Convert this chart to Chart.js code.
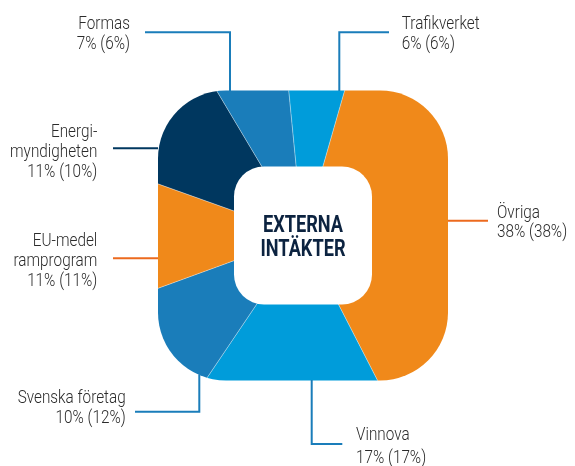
<!DOCTYPE html>
<html>
<head>
<meta charset="utf-8">
<script src="https://cdn.jsdelivr.net/npm/chart.js@4"></script>
<style>
  html, body { margin: 0; padding: 0; background: #fff; }
  #wrap { width: 575px; height: 466px; position: relative; }
</style>
</head>
<body>
<div id="wrap"><canvas id="pieChart"></canvas></div>
<script>
// data
const categories = ['Övriga', 'Vinnova', 'Svenska företag', 'EU-medel ramprogram', 'Energimyndigheten', 'Formas', 'Trafikverket'];
const labelLines = [['Övriga'], ['Vinnova'], ['Svenska företag'], ['EU-medel', 'ramprogram'], ['Energi-', 'myndigheten'], ['Formas'], ['Trafikverket']];
const shares = [38, 17, 10, 11, 11, 7, 6];
const sharesPrev = [38, 17, 12, 11, 10, 6, 6];
const title = ['EXTERNA', 'INTÄKTER'];

const ORANGE = '#f0891a';
const LIGHT = '#009cda';
const MID = '#1a7dba';
const NAVY = '#00375f';
const sliceColors = [ORANGE, LIGHT, MID, ORANGE, NAVY, MID, LIGHT];

// callout layout, offsets from the pie centre
const callouts = [
    { pts: [[145, -14.8], [185, -14.8]], color: '#ec6a1e', tx: 194, ty: -17.5, align: 'left', lh: 19 },
    { pts: [[8.7, 144.5], [8.7, 208.5], [39.3, 208.5]], color: MID, tx: 53, ty: 204.5, align: 'left', lh: 22.7 },
    { pts: [[-103.7, 139], [-103.7, 176.2], [-168, 176.2]], color: MID, tx: -177.3, ty: 167.8, align: 'right', lh: 20 },
    { pts: [[-145, 22.8], [-190, 22.8]], color: '#ec6a1e', tx: -205.7, ty: 10.5, align: 'right', lh: 20 },
    { pts: [[-145, -87.2], [-190, -87.2]], color: NAVY, tx: -205.7, ty: -98.8, align: 'right', lh: 20 },
    { pts: [[-73, -144.5], [-73, -203.2], [-158, -203.2]], color: MID, tx: -173, ty: -206.2, align: 'right', lh: 20 },
    { pts: [[36.3, -144.5], [36.3, -203.2], [86, -203.2]], color: MID, tx: 98.7, ty: -206.2, align: 'left', lh: 20 }
];

const BOX = 145, BOX_R = 68, HOLE = 69, HOLE_R = 30;

function roundedRect(ctx, x, y, w, h, r) {
    ctx.beginPath();
    ctx.moveTo(x + r, y);
    ctx.arcTo(x + w, y, x + w, y + h, r);
    ctx.arcTo(x + w, y + h, x, y + h, r);
    ctx.arcTo(x, y + h, x, y, r);
    ctx.arcTo(x, y, x + w, y, r);
    ctx.closePath();
}

// the original uses a condensed face, so squeeze Roboto a bit
function condensedText(ctx, text, x, y, align, sx) {
    const w = ctx.measureText(text).width * sx;
    let left = x;
    if (align === 'right') left = x - w;
    if (align === 'center') left = x - w / 2;
    ctx.save();
    ctx.translate(left, y);
    ctx.scale(sx, 1);
    ctx.textAlign = 'left';
    ctx.fillText(text, 0, 0);
    ctx.restore();
}

const squarePie = {
    id: 'squarePie',
    beforeDatasetsDraw(chart) {
        const arc = chart.getDatasetMeta(0).data[0];
        const ctx = chart.ctx;
        ctx.save();
        roundedRect(ctx, arc.x - BOX, arc.y - BOX, BOX * 2, BOX * 2, BOX_R);
        ctx.clip();
    },
    afterDatasetsDraw(chart) {
        const ctx = chart.ctx;
        ctx.restore();
        const arc = chart.getDatasetMeta(0).data[0];
        const cx = arc.x, cy = arc.y;

        // white centre
        ctx.save();
        ctx.fillStyle = '#fff';
        roundedRect(ctx, cx - HOLE, cy - HOLE, HOLE * 2, HOLE * 2, HOLE_R);
        ctx.fill();

        ctx.fillStyle = '#0c2340';
        ctx.font = 'bold 23px Roboto';
        ctx.textBaseline = 'alphabetic';
        condensedText(ctx, title[0], cx, cy - 3.8, 'center', 0.79);
        condensedText(ctx, title[1], cx, cy + 20.5, 'center', 0.79);

        // leader lines + labels
        ctx.lineWidth = 2;
        ctx.font = '300 18px Roboto';
        callouts.forEach((c, i) => {
            ctx.strokeStyle = c.color;
            ctx.beginPath();
            c.pts.forEach((p, j) => {
                if (j === 0) ctx.moveTo(cx + p[0], cy + p[1]);
                else ctx.lineTo(cx + p[0], cy + p[1]);
            });
            ctx.stroke();

            ctx.fillStyle = '#2b2b2b';
            const lines = labelLines[i].concat([shares[i] + '% (' + sharesPrev[i] + '%)']);
            lines.forEach((t, k) => {
                condensedText(ctx, t, cx + c.tx, cy + c.ty + k * c.lh, c.align, 0.85);
            });
        });
        ctx.restore();
    }
};

new Chart(document.getElementById('pieChart'), {
    type: 'pie',
    data: {
        labels: categories,
        datasets: [{
            data: shares,
            backgroundColor: sliceColors,
            borderColor: 'rgba(255,255,255,0.3)',
            borderWidth: 1
        }]
    },
    options: {
        responsive: true,
        maintainAspectRatio: false,
        animation: false,
        rotation: 16,
        layout: { padding: { top: 45, bottom: 40, left: 113, right: 82 } },
        plugins: {
            legend: { display: false },
            tooltip: { enabled: false }
        }
    },
    plugins: [squarePie]
});
</script>
</body>
</html>
